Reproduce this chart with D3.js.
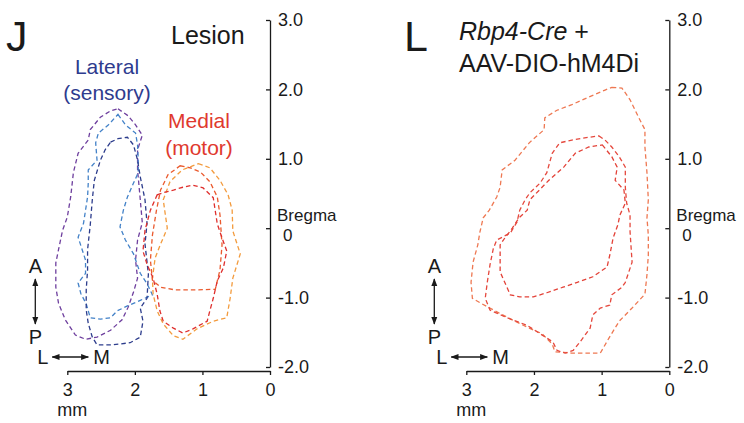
<!DOCTYPE html>
<html>
<head>
<meta charset="utf-8">
<script src="https://cdn.jsdelivr.net/npm/d3@7"></script>
<style>
  body { margin: 0; background: #fff; }
  svg { display: block; font-family: "Liberation Sans", Arial, sans-serif; }
</style>
</head>
<body>
<svg id="chart" width="744" height="423"></svg>
<script>

// axis ticks (mm)
var yTicks = [3, 2, 1, 0, -1, -2];
var xTicks = [3, 2, 1, 0];

// contours, [mediolateral mm, anteroposterior mm from bregma]
// panel J: lateral (sensory) lesions
var latPurple = [[2.25,1.72],[2.10,1.62],[1.99,1.49],[1.89,1.34],[1.96,1.13],[1.96,0.84],[1.92,0.41],[1.89,0.08],
  [1.96,-0.17],[1.99,-0.46],[1.96,-0.72],[2.02,-0.92],[2.10,-1.14],[2.19,-1.32],[2.36,-1.47],[2.56,-1.57],
  [2.73,-1.60],[2.88,-1.54],[3.03,-1.32],[3.13,-1.08],[3.17,-0.85],[3.17,-0.50],[3.13,-0.31],[3.07,-0.03],
  [3.00,0.16],[2.95,0.45],[2.91,0.80],[2.84,1.08],[2.69,1.27],[2.66,1.42],[2.51,1.60],[2.36,1.69]];
var latBlue = [[2.25,1.64],[2.14,1.49],[1.99,1.37],[1.96,1.20],[1.95,0.98],[1.95,0.80],[2.02,0.65],[2.11,0.45],
  [2.17,0.26],[2.22,0.02],[2.14,-0.17],[2.02,-0.37],[1.92,-0.65],[1.82,-0.80],[1.74,-0.96],[1.92,-1.04],
  [2.11,-1.12],[2.26,-1.19],[2.36,-1.29],[2.51,-1.31],[2.66,-1.29],[2.72,-1.09],[2.80,-0.94],[2.84,-0.79],
  [2.73,-0.65],[2.73,-0.46],[2.84,-0.13],[2.76,0.07],[2.73,0.26],[2.70,0.45],[2.69,0.65],[2.69,0.84],
  [2.56,0.98],[2.58,1.23],[2.54,1.37],[2.39,1.49]];
var latNavy = [[2.36,1.24],[2.25,1.29],[2.11,1.31],[2.02,1.20],[1.96,0.98],[1.92,0.74],[1.85,0.41],[1.82,0.07],
  [1.85,-0.23],[1.80,-0.66],[1.82,-1.01],[1.92,-1.15],[1.88,-1.34],[1.92,-1.57],[2.07,-1.65],[2.32,-1.68],
  [2.56,-1.68],[2.63,-1.57],[2.69,-1.37],[2.72,-1.18],[2.72,-0.89],[2.70,-0.60],[2.70,-0.31],[2.66,0.05],
  [2.63,0.41],[2.60,0.69],[2.51,0.98],[2.44,1.13]];
// panel J: medial (motor) lesions
var medRed = [[1.67,0.48],[1.55,0.52],[1.43,0.55],[1.29,0.59],[1.14,0.62],[0.99,0.58],[0.84,0.44],[0.78,0.06],
  [0.71,-0.14],[0.64,-0.33],[0.69,-0.57],[0.78,-0.76],[0.84,-1.01],[0.89,-1.19],[0.93,-1.34],[1.14,-1.45],
  [1.29,-1.51],[1.43,-1.44],[1.58,-1.34],[1.63,-1.19],[1.67,-0.95],[1.73,-0.72],[1.82,-0.52],[1.88,-0.33],
  [1.85,-0.03],[1.77,0.26]];
var medVermilion = [[1.33,0.90],[1.18,0.87],[1.03,0.81],[0.89,0.67],[0.78,0.45],[0.74,0.19],[0.71,-0.24],
  [0.74,-0.60],[0.81,-0.88],[1.11,-0.89],[1.40,-0.89],[1.62,-0.85],[1.74,-0.75],[1.77,-0.46],[1.74,-0.10],
  [1.68,0.26],[1.62,0.55],[1.51,0.77]];
var medOrange = [[1.06,0.93],[0.89,0.87],[0.74,0.69],[0.62,0.48],[0.56,0.26],[0.55,-0.04],[0.44,-0.37],
  [0.55,-0.72],[0.59,-1.01],[0.64,-1.29],[0.84,-1.34],[1.08,-1.45],[1.29,-1.60],[1.43,-1.55],[1.58,-1.38],
  [1.67,-1.19],[1.73,-0.95],[1.74,-0.72],[1.70,-0.43],[1.62,-0.23],[1.52,0.00],[1.55,0.20],[1.58,0.41],
  [1.48,0.67],[1.30,0.84]];
// panel L: Rbp4-Cre + AAV-DIO-hM4Di
var rbpOuter = [[0.85,2.03],[0.70,2.02],[0.58,1.85],[0.45,1.59],[0.36,1.42],[0.36,1.17],[0.33,0.80],[0.31,0.41],
  [0.33,0.15],[0.31,-0.10],[0.31,-0.39],[0.33,-0.67],[0.36,-0.95],[0.55,-1.15],[0.74,-1.34],[0.89,-1.58],
  [1.02,-1.80],[1.25,-1.80],[1.44,-1.80],[1.69,-1.78],[1.73,-1.67],[1.88,-1.52],[2.07,-1.44],[2.28,-1.34],
  [2.52,-1.22],[2.77,-1.09],[2.91,-1.01],[2.93,-0.78],[2.90,-0.49],[2.83,-0.24],[2.80,-0.06],[2.75,0.15],
  [2.66,0.26],[2.55,0.45],[2.50,0.59],[2.47,0.84],[2.28,0.98],[2.07,1.23],[1.85,1.42],[1.84,1.59],
  [1.66,1.70],[1.44,1.78],[1.19,1.89],[0.95,1.99]];
var rbpMiddle = [[1.04,1.33],[0.95,1.27],[0.85,1.17],[0.74,1.03],[0.65,0.88],[0.65,0.59],[0.63,0.36],[0.58,0.19],
  [0.58,-0.05],[0.55,-0.49],[0.65,-0.78],[0.70,-0.85],[0.85,-0.96],[0.88,-1.11],[1.02,-1.15],[1.13,-1.25],
  [1.17,-1.44],[1.32,-1.64],[1.42,-1.76],[1.54,-1.80],[1.66,-1.76],[1.72,-1.64],[2.10,-1.40],[2.40,-1.29],
  [2.65,-1.18],[2.72,-1.01],[2.69,-0.78],[2.65,-0.53],[2.60,-0.29],[2.55,-0.17],[2.35,-0.07],[2.25,0.09],
  [2.21,0.26],[2.13,0.41],[2.06,0.51],[1.91,0.65],[1.81,0.80],[1.73,1.08],[1.62,1.23],[1.44,1.27],[1.19,1.31]];
var rbpInner = [[0.99,1.20],[0.85,1.03],[0.77,0.88],[0.80,0.69],[0.67,0.55],[0.65,0.36],[0.73,0.19],[0.76,0.05],
  [0.83,-0.14],[0.88,-0.39],[0.92,-0.56],[1.13,-0.70],[1.36,-0.78],[1.57,-0.85],[1.81,-0.93],[2.01,-0.99],
  [2.21,-0.99],[2.35,-0.96],[2.50,-0.63],[2.50,-0.43],[2.50,-0.24],[2.43,-0.14],[2.32,0.00],[2.22,0.15],
  [2.10,0.26],[2.06,0.41],[1.78,0.69],[1.56,0.88],[1.39,1.08],[1.19,1.17]];

var svg = d3.select("#chart");
var ink = "#1a1a1a";

var y = d3.scaleLinear().domain([3, -2]).range([20, 367]);

var panels = [
  { letter: "J", left: 67.3, right: 270, letterX: 6,
    contours: [
      { pts: latPurple, color: "#6e3f9e" },
      { pts: latBlue, color: "#4382c8" },
      { pts: latNavy, color: "#2c3c8c" },
      { pts: medOrange, color: "#f39b3d" },
      { pts: medVermilion, color: "#ea5a2e" },
      { pts: medRed, color: "#df2f2d" }
    ] },
  { letter: "L", left: 466.3, right: 669.3, letterX: 404,
    contours: [
      { pts: rbpOuter, color: "#ee7852" },
      { pts: rbpMiddle, color: "#e5483d" },
      { pts: rbpInner, color: "#e34238" }
    ] }
];

// arrow head marker
svg.append("defs").append("marker")
  .attr("id", "head")
  .attr("viewBox", "0 0 10 10")
  .attr("refX", 9).attr("refY", 5)
  .attr("markerWidth", 8).attr("markerHeight", 8)
  .attr("markerUnits", "userSpaceOnUse")
  .attr("orient", "auto-start-reverse")
  .append("path").attr("d", "M0,1.2L10,5L0,8.8Z").attr("fill", ink);

panels.forEach(function(p) {
  var x = d3.scaleLinear().domain([3, 0]).range([p.left, p.right]);

  var line = d3.line()
    .x(function(d) { return x(d[0]); })
    .y(function(d) { return y(d[1]); })
    .curve(d3.curveLinearClosed);

  svg.append("g").selectAll("path")
    .data(p.contours)
    .enter().append("path")
    .attr("d", function(d) { return line(d.pts); })
    .attr("fill", "none")
    .attr("stroke", function(d) { return d.color; })
    .attr("stroke-width", 1.3)
    .attr("stroke-dasharray", "4.5,3");

  // y axis on the right, ticks pointing in
  var gy = svg.append("g")
    .attr("transform", "translate(" + x(0) + ",0)")
    .call(d3.axisRight(y).tickValues(yTicks).tickSize(-4).tickSizeOuter(0).tickPadding(8)
      .tickFormat(function(d) { return d === 0 ? "" : d.toFixed(1); }));
  gy.attr("font-family", null).attr("font-size", 18);
  gy.selectAll("text").attr("fill", ink);
  gy.selectAll("path, line").attr("stroke", ink).attr("stroke-width", 1.3);

  svg.append("text").attr("x", x(0) + 7).attr("y", y(0) - 7)
    .attr("font-size", 17).attr("fill", ink).text("Bregma");
  svg.append("text").attr("x", x(0) + 13).attr("y", y(0) + 13)
    .attr("font-size", 17).attr("fill", ink).text("0");

  // x axis
  var gx = svg.append("g")
    .attr("transform", "translate(0,371)")
    .call(d3.axisBottom(x).tickValues(xTicks).tickSize(4).tickSizeOuter(0).tickPadding(8)
      .tickFormat(d3.format("d")));
  gx.attr("font-family", null).attr("font-size", 18);
  gx.selectAll("text").attr("fill", ink);
  gx.selectAll("path, line").attr("stroke", ink).attr("stroke-width", 1.3);

  svg.append("text").attr("x", x(3) - 10).attr("y", 416)
    .attr("font-size", 18).attr("fill", ink).text("mm");

  // panel letter
  svg.append("text").attr("x", p.letterX).attr("y", 51)
    .attr("font-size", 43).attr("fill", ink).text(p.letter);

  // orientation: A-P and L-M
  var cx = x(3) - 32;
  svg.append("text").attr("x", cx).attr("y", 273).attr("text-anchor", "middle")
    .attr("font-size", 20).attr("fill", ink).text("A");
  svg.append("text").attr("x", cx).attr("y", 344).attr("text-anchor", "middle")
    .attr("font-size", 20).attr("fill", ink).text("P");
  svg.append("line").attr("x1", cx).attr("x2", cx).attr("y1", 279).attr("y2", 324)
    .attr("stroke", ink).attr("stroke-width", 1.3)
    .attr("marker-start", "url(#head)").attr("marker-end", "url(#head)");

  svg.append("text").attr("x", x(3) - 30).attr("y", 364)
    .attr("font-size", 20).attr("fill", ink).text("L");
  svg.append("text").attr("x", x(3) + 26).attr("y", 364)
    .attr("font-size", 20).attr("fill", ink).text("M");
  svg.append("line").attr("x1", x(3) - 15).attr("x2", x(3) + 21).attr("y1", 357).attr("y2", 357)
    .attr("stroke", ink).attr("stroke-width", 1.3)
    .attr("marker-start", "url(#head)").attr("marker-end", "url(#head)");
});

// titles
svg.append("text").attr("x", 171).attr("y", 44).attr("font-size", 25).attr("fill", ink).text("Lesion");

svg.append("text").attr("x", 107).attr("y", 74).attr("text-anchor", "middle")
  .attr("font-size", 21).attr("fill", "#2e3b8e").text("Lateral");
svg.append("text").attr("x", 107).attr("y", 100).attr("text-anchor", "middle")
  .attr("font-size", 21).attr("fill", "#2e3b8e").text("(sensory)");
svg.append("text").attr("x", 199).attr("y", 128).attr("text-anchor", "middle")
  .attr("font-size", 21).attr("fill", "#e0392e").text("Medial");
svg.append("text").attr("x", 199).attr("y", 155).attr("text-anchor", "middle")
  .attr("font-size", 21).attr("fill", "#e0392e").text("(motor)");

var t1 = svg.append("text").attr("x", 459).attr("y", 40).attr("font-size", 25).attr("fill", ink);
t1.append("tspan").attr("font-style", "italic").text("Rbp4-Cre");
t1.append("tspan").text(" +");
svg.append("text").attr("x", 459).attr("y", 72).attr("font-size", 25).attr("fill", ink).text("AAV-DIO-hM4Di");

</script>
</body>
</html>
